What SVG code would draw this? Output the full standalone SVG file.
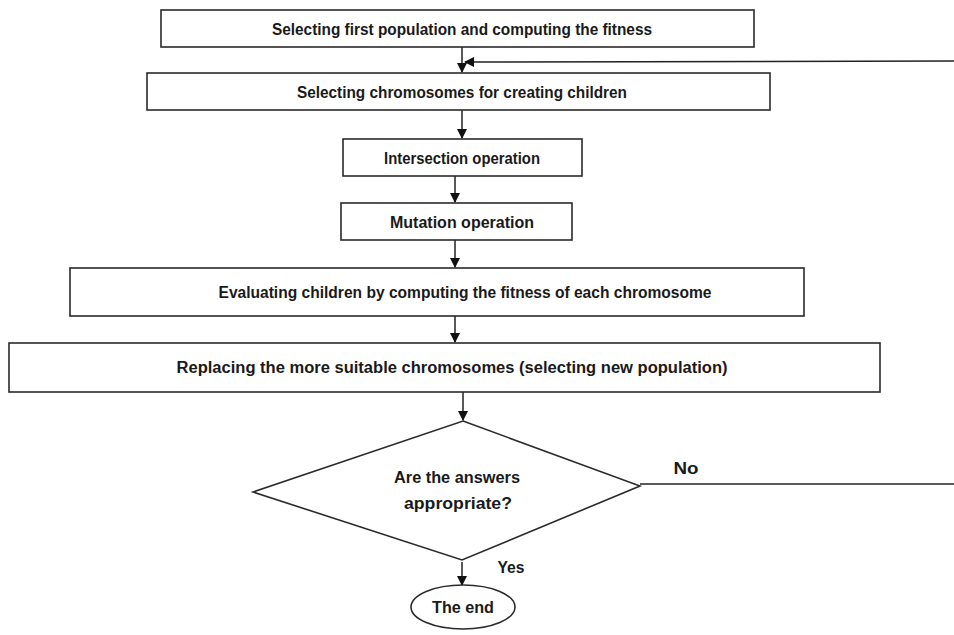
<svg xmlns="http://www.w3.org/2000/svg" width="954" height="635" viewBox="0 0 954 635">
<style>
.box{fill:#fff;stroke:#2a2a2a;stroke-width:1.6}
.t{font-family:"Liberation Sans",Arial,sans-serif;font-weight:bold;font-size:16px;fill:#1a1a1a;text-anchor:middle;dominant-baseline:central}
.c{fill:none;stroke:#222;stroke-width:1.5}
</style>
<defs>
<marker id="ah" markerWidth="10" markerHeight="10" refX="9" refY="5" orient="auto" markerUnits="userSpaceOnUse">
<path d="M0,0 L10,5 L0,10 z" fill="#111"/>
</marker>
</defs>
<rect width="954" height="635" fill="#fff"/>
<g id="connectors">
<line class="c" x1="462" y1="47" x2="462" y2="72" marker-end="url(#ah)"/>
<line class="c" x1="954" y1="61" x2="465" y2="62" stroke-width="2.2" marker-end="url(#ah)"/>
<line class="c" x1="462" y1="110" x2="462" y2="138" marker-end="url(#ah)"/>
<line class="c" x1="455" y1="176" x2="455" y2="202" marker-end="url(#ah)"/>
<line class="c" x1="455" y1="240" x2="455" y2="267" marker-end="url(#ah)"/>
<line class="c" x1="455" y1="316" x2="455" y2="342" marker-end="url(#ah)"/>
<line class="c" x1="463" y1="392" x2="463" y2="420" marker-end="url(#ah)"/>
<line class="c" x1="640" y1="484" x2="954" y2="484"/>
<line class="c" x1="462" y1="562" x2="462" y2="585" marker-end="url(#ah)"/>
<text class="t" x="686" y="468" textLength="25" lengthAdjust="spacingAndGlyphs">No</text>
<text class="t" x="511" y="567" textLength="27" lengthAdjust="spacingAndGlyphs">Yes</text>
</g>
<g id="n1"><rect class="box" x="161" y="10" width="593" height="37"/><text class="t" x="462" y="29" textLength="380" lengthAdjust="spacingAndGlyphs">Selecting first population and computing the fitness</text></g>
<g id="n2"><rect class="box" x="147" y="73" width="623" height="37"/><text class="t" x="462" y="92" textLength="330" lengthAdjust="spacingAndGlyphs">Selecting chromosomes for creating children</text></g>
<g id="n3"><rect class="box" x="343" y="139" width="239" height="37"/><text class="t" x="462" y="158" textLength="156" lengthAdjust="spacingAndGlyphs">Intersection operation</text></g>
<g id="n4"><rect class="box" x="341" y="203" width="231" height="37"/><text class="t" x="462" y="222" textLength="144" lengthAdjust="spacingAndGlyphs">Mutation operation</text></g>
<g id="n5"><rect class="box" x="70" y="268" width="734" height="48"/><text class="t" x="465" y="292" textLength="493" lengthAdjust="spacingAndGlyphs">Evaluating children by computing the fitness of each chromosome</text></g>
<g id="n6"><rect class="box" x="9" y="343" width="871" height="49"/><text class="t" x="452" y="367" textLength="551" lengthAdjust="spacingAndGlyphs">Replacing the more suitable chromosomes (selecting new population)</text></g>
<g id="n7"><polygon class="box" points="463,421 640,486 462,560 253,492"/><text class="t" x="457" y="477" textLength="126" lengthAdjust="spacingAndGlyphs">Are the answers</text><text class="t" x="458" y="503" textLength="108" lengthAdjust="spacingAndGlyphs">appropriate?</text></g>
<g id="n8"><ellipse class="box" cx="463" cy="607" rx="52" ry="22"/><text class="t" x="463" y="607" textLength="62" lengthAdjust="spacingAndGlyphs">The end</text></g>
</svg>
